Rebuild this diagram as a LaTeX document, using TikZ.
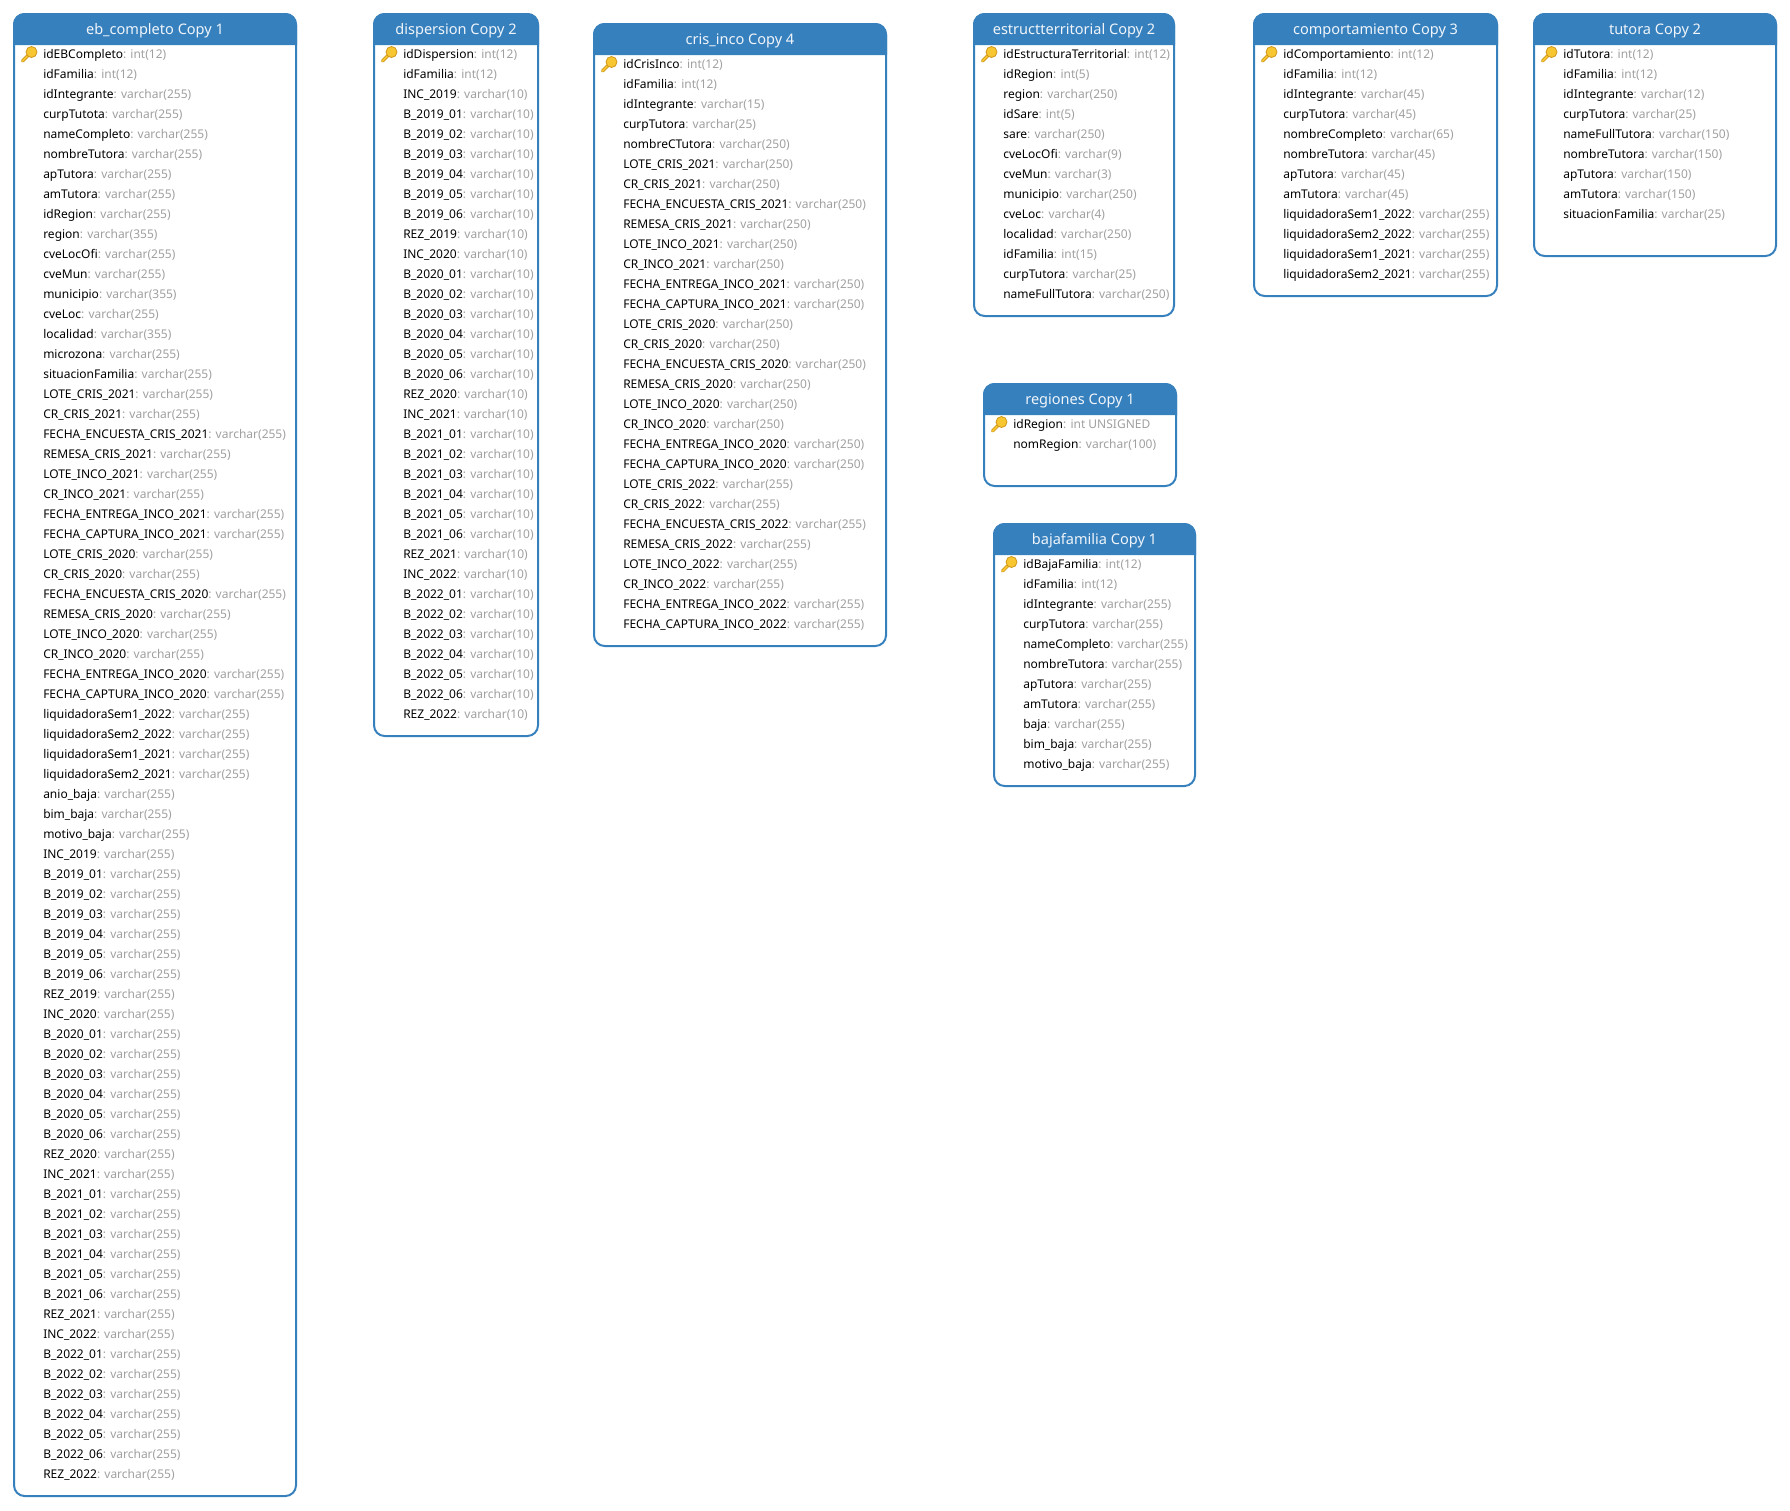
\documentclass[tikz,border=0pt]{standalone}
\usepackage{fontspec}
\usepackage{tikz}
\setmainfont{Noto Sans}
\definecolor{tablecol}{HTML}{3780BE}
\definecolor{typecol}{HTML}{A0A0A0}
\definecolor{keyfill}{HTML}{F8C630}
\definecolor{keyline}{HTML}{CF981C}
\catcode`\_=12

\tikzset{
  tableframe/.style={draw=tablecol, line width=1.5pt, fill=white, rounded corners=8pt},
  tablehead/.style={draw=tablecol, fill=tablecol, line width=1.5pt},
  tabletitle/.style={anchor=base, inner sep=0pt, text=white!92!tablecol, font=\fontsize{10.9}{12}\selectfont},
  rowtext/.style={anchor=base west, inner sep=0pt, text=black, font=\fontsize{9}{11}\selectfont},
  keyicon/.pic={
    \draw [keyline, line width=2.5pt, line cap=round] (-1,1) -- (-9,9);
    \draw [keyfill, line width=1.3pt, line cap=round] (-1,1) -- (-9,9);
    \draw [keyline, fill=keyfill, line width=0.6pt] (0,0) circle (5.5);
  }
}

% name, left, top, right, bottom, title
\newcommand{\tablebox}[6]{
  \draw [tableframe] (#2,#3) rectangle (#4,#5);
  \draw [tablehead] (#2,#3+30) [rounded corners=8pt] -- (#2,#3) -- (#4,#3) [sharp corners] -- (#4,#3+30) -- cycle;
  \node (#1-title) [tabletitle] at ({(#2+#4)/2},#3+20) {#6};
  \pic (#1-key) at (#2+17.5,#3+38) {keyicon};
}
% name, left, top, first row, list of rows
\newcommand{\rowlist}[5]{
  \foreach \f/\t [count=\i from #4] in {#5} {
    \node (#1-\i) [rowtext] at (#2+29,#3+44.5+20*\i-20) {\f\textcolor{typecol}{: \t}};
  }
}
% name, left, top, first row, type
\newcommand{\yearrows}[5]{
  \foreach \yr [count=\k from 0] in {2019,2020,2021,2022} {
    \pgfmathtruncatemacro{\base}{#4+8*\k}
    \rowlist{#1}{#2}{#3}{\base}{INC_\yr/#5, B_\yr_01/#5, B_\yr_02/#5, B_\yr_03/#5, B_\yr_04/#5, B_\yr_05/#5, B_\yr_06/#5, REZ_\yr/#5}
  }
}

\begin{document}
\begin{tikzpicture}[x=0.75pt, y=-0.75pt]
\fill [white] (0,0) rectangle (1790,1510);

\tablebox{completo}{14}{14}{296}{1496}{eb_completo Copy 1}
\rowlist{completo}{14}{14}{1}{idEBCompleto/int(12), idFamilia/int(12), idIntegrante/varchar(255), curpTutota/varchar(255),
  nameCompleto/varchar(255), nombreTutora/varchar(255), apTutora/varchar(255), amTutora/varchar(255), idRegion/varchar(255),
  region/varchar(355), cveLocOfi/varchar(255), cveMun/varchar(255), municipio/varchar(355), cveLoc/varchar(255),
  localidad/varchar(355), microzona/varchar(255), situacionFamilia/varchar(255),
  LOTE_CRIS_2021/varchar(255), CR_CRIS_2021/varchar(255), FECHA_ENCUESTA_CRIS_2021/varchar(255), REMESA_CRIS_2021/varchar(255),
  LOTE_INCO_2021/varchar(255), CR_INCO_2021/varchar(255), FECHA_ENTREGA_INCO_2021/varchar(255), FECHA_CAPTURA_INCO_2021/varchar(255),
  LOTE_CRIS_2020/varchar(255), CR_CRIS_2020/varchar(255), FECHA_ENCUESTA_CRIS_2020/varchar(255), REMESA_CRIS_2020/varchar(255),
  LOTE_INCO_2020/varchar(255), CR_INCO_2020/varchar(255), FECHA_ENTREGA_INCO_2020/varchar(255), FECHA_CAPTURA_INCO_2020/varchar(255),
  liquidadoraSem1_2022/varchar(255), liquidadoraSem2_2022/varchar(255), liquidadoraSem1_2021/varchar(255), liquidadoraSem2_2021/varchar(255),
  anio_baja/varchar(255), bim_baja/varchar(255), motivo_baja/varchar(255)}
\yearrows{completo}{14}{14}{41}{varchar(255)}

\tablebox{dispersion}{374}{14}{538}{736}{dispersion Copy 2}
\rowlist{dispersion}{374}{14}{1}{idDispersion/int(12), idFamilia/int(12)}
\yearrows{dispersion}{374}{14}{3}{varchar(10)}

\tablebox{crisinco}{594}{24}{886}{646}{cris_inco Copy 4}
\rowlist{crisinco}{594}{24}{1}{idCrisInco/int(12), idFamilia/int(12), idIntegrante/varchar(15), curpTutora/varchar(25), nombreCTutora/varchar(250),
  LOTE_CRIS_2021/varchar(250), CR_CRIS_2021/varchar(250), FECHA_ENCUESTA_CRIS_2021/varchar(250), REMESA_CRIS_2021/varchar(250),
  LOTE_INCO_2021/varchar(250), CR_INCO_2021/varchar(250), FECHA_ENTREGA_INCO_2021/varchar(250), FECHA_CAPTURA_INCO_2021/varchar(250),
  LOTE_CRIS_2020/varchar(250), CR_CRIS_2020/varchar(250), FECHA_ENCUESTA_CRIS_2020/varchar(250), REMESA_CRIS_2020/varchar(250),
  LOTE_INCO_2020/varchar(250), CR_INCO_2020/varchar(250), FECHA_ENTREGA_INCO_2020/varchar(250), FECHA_CAPTURA_INCO_2020/varchar(250),
  LOTE_CRIS_2022/varchar(255), CR_CRIS_2022/varchar(255), FECHA_ENCUESTA_CRIS_2022/varchar(255), REMESA_CRIS_2022/varchar(255),
  LOTE_INCO_2022/varchar(255), CR_INCO_2022/varchar(255), FECHA_ENTREGA_INCO_2022/varchar(255), FECHA_CAPTURA_INCO_2022/varchar(255)}

\tablebox{estructura}{974}{14}{1174}{316}{estructterritorial Copy 2}
\rowlist{estructura}{974}{14}{1}{idEstructuraTerritorial/int(12), idRegion/int(5), region/varchar(250), idSare/int(5), sare/varchar(250),
  cveLocOfi/varchar(9), cveMun/varchar(3), municipio/varchar(250), cveLoc/varchar(4), localidad/varchar(250), idFamilia/int(15),
  curpTutora/varchar(25), nameFullTutora/varchar(250)}

\tablebox{comportamiento}{1254}{14}{1497}{296}{comportamiento Copy 3}
\rowlist{comportamiento}{1254}{14}{1}{idComportamiento/int(12), idFamilia/int(12), idIntegrante/varchar(45), curpTutora/varchar(45),
  nombreCompleto/varchar(65), nombreTutora/varchar(45), apTutora/varchar(45), amTutora/varchar(45),
  liquidadoraSem1_2022/varchar(255), liquidadoraSem2_2022/varchar(255), liquidadoraSem1_2021/varchar(255), liquidadoraSem2_2021/varchar(255)}

\tablebox{tutora}{1534}{14}{1776}{256}{tutora Copy 2}
\rowlist{tutora}{1534}{14}{1}{idTutora/int(12), idFamilia/int(12), idIntegrante/varchar(12), curpTutora/varchar(25), nameFullTutora/varchar(150),
  nombreTutora/varchar(150), apTutora/varchar(150), amTutora/varchar(150), situacionFamilia/varchar(25)}

\tablebox{regiones}{984}{384}{1176}{486}{regiones Copy 1}
\rowlist{regiones}{984}{384}{1}{idRegion/int UNSIGNED, nomRegion/varchar(100)}

\tablebox{bajafamilia}{994}{524}{1195}{786}{bajafamilia Copy 1}
\rowlist{bajafamilia}{994}{524}{1}{idBajaFamilia/int(12), idFamilia/int(12), idIntegrante/varchar(255), curpTutora/varchar(255),
  nameCompleto/varchar(255), nombreTutora/varchar(255), apTutora/varchar(255), amTutora/varchar(255), baja/varchar(255),
  bim_baja/varchar(255), motivo_baja/varchar(255)}
\end{tikzpicture}
\end{document}
